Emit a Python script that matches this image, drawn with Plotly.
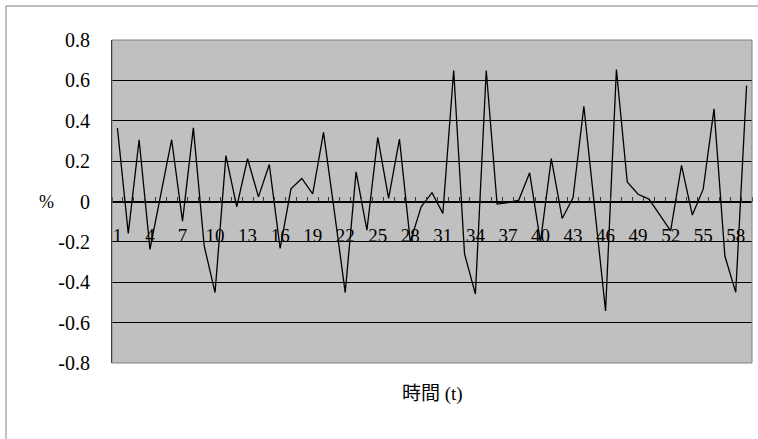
import plotly.graph_objects as go

# Data
t = list(range(1, 60))
values = [0.364, -0.158, 0.306, -0.237, 0.035, 0.306, -0.097, 0.365, -0.22, -0.451,
          0.227, -0.026, 0.212, 0.023, 0.183, -0.232, 0.063, 0.114, 0.038, 0.342,
          -0.05, -0.451, 0.147, -0.142, 0.318, 0.015, 0.309, -0.2, -0.026, 0.044,
          -0.059, 0.649, -0.26, -0.458, 0.649, -0.013, -0.006, 0.007, 0.142, -0.2,
          0.212, -0.084, 0.018, 0.472, -0.035, -0.542, 0.654, 0.097, 0.036, 0.012,
          -0.066, -0.145, 0.179, -0.067, 0.061, 0.459, -0.27, -0.45, 0.574]
x_tick_vals = list(range(1, 60, 3))
x_tick_text = [str(v) for v in x_tick_vals]
y_tick_vals = [-0.8, -0.6, -0.4, -0.2, 0, 0.2, 0.4, 0.6, 0.8]
y_tick_text = ["-0.8", "-0.6", "-0.4", "-0.2", "0", "0.2", "0.4", "0.6", "0.8"]

W, H = 758, 439
L, R, T, B = 112, 6, 40, 76
pw, ph = W - L - R, H - T - B

def px_to_paper_x(px):
    return (px - L) / pw

def py_to_paper_y(py):
    return (H - B - py) / ph

serif = "Liberation Serif, Times New Roman, DejaVu Serif, serif"

fig = go.Figure()
fig.add_trace(go.Scatter(x=t, y=values, mode="lines",
                         line=dict(color="black", width=1.3),
                         hoverinfo="x+y", showlegend=False))

fig.update_layout(
    width=W, height=H,
    margin=dict(l=L, r=R, t=T, b=B),
    paper_bgcolor="white",
    plot_bgcolor="#C0C0C0",
    font=dict(family=serif),
    xaxis=dict(
        range=[0.5, 59.5],
        anchor="free", position=0.5,
        tickmode="array", tickvals=x_tick_vals, ticktext=x_tick_text,
        ticks="", showgrid=False, zeroline=False,
        showline=True, linecolor="black", linewidth=1,
        tickfont=dict(family=serif, size=19, color="black"),
        ticklabelstandoff=17,
        minor=dict(tickmode="linear", tick0=0.5, dtick=1, ticks="inside",
                   ticklen=5, tickcolor="#333", tickwidth=1, showgrid=False),
    ),
    yaxis=dict(
        range=[-0.8, 0.8],
        tickmode="array", tickvals=y_tick_vals, ticktext=y_tick_text,
        showgrid=True, gridcolor="black", gridwidth=1,
        zeroline=False, showline=True, linecolor="black", linewidth=1,
        ticks="", tickfont=dict(family=serif, size=20, color="black"),
        ticklabelstandoff=17,
    ),
    shapes=[
        dict(type="rect", xref="paper", yref="paper", x0=0, x1=1, y0=0, y1=1,
             line=dict(color="#808080", width=1), layer="above"),
        dict(type="rect", xref="paper", yref="paper",
             x0=px_to_paper_x(6), x1=px_to_paper_x(762),
             y0=py_to_paper_y(445), y1=py_to_paper_y(6),
             line=dict(color="#808080", width=1), layer="below"),
    ],
    annotations=[
        dict(text="%", xref="paper", yref="paper",
             x=px_to_paper_x(37), y=0.5, showarrow=False,
             font=dict(family=serif, size=18, color="black")),
        dict(text="時間 (t)", xref="paper", yref="paper",
             x=0.5, y=py_to_paper_y(407), showarrow=False,
             font=dict(family="Liberation Serif, Noto Sans CJK TC", size=19, color="black")),
    ],
)

fig.write_html("out.html",
               config={"displayModeBar": False},
               post_script="document.body.style.margin='0';document.body.style.padding='0';")
